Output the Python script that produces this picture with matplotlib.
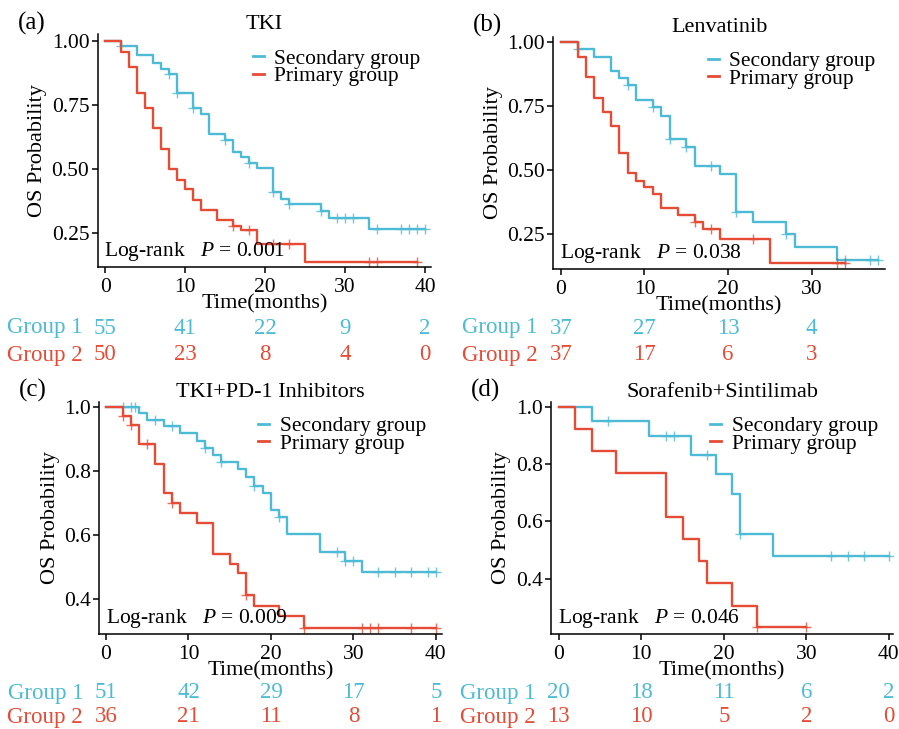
import numpy as np
import matplotlib
matplotlib.use("Agg")
import matplotlib.pyplot as plt
from matplotlib import transforms

plt.rcParams["font.family"] = ["Liberation Serif", "DejaVu Serif"]
plt.rcParams["mathtext.fontset"] = "custom"
plt.rcParams["mathtext.rm"] = "Liberation Serif"
plt.rcParams["mathtext.it"] = "Liberation Serif:italic"

BLUE = "#4DBBD5"
RED = "#E64B35"

# (a) TKI
a_sec_t = [0, 2, 4, 6, 7, 8, 9, 11, 12, 13, 15, 16, 17, 18, 19, 21, 22, 23, 27, 28, 33]
a_sec_s = [1, 0.982, 0.945, 0.913, 0.889, 0.871, 0.796, 0.737, 0.715, 0.635, 0.613,
           0.568, 0.548, 0.525, 0.503, 0.409, 0.383, 0.363, 0.337, 0.307, 0.264]
a_sec_end = 40
a_sec_cens = [2, 8, 9, 11, 15, 18, 21, 23, 27, 29, 30, 31, 34, 37, 38, 39, 40]
a_pri_t = [0, 2, 3, 4, 5, 6, 7, 8, 9, 10, 11, 12, 14, 16, 17, 19, 25]
a_pri_s = [1, 0.958, 0.90, 0.798, 0.74, 0.659, 0.578, 0.499, 0.457, 0.42, 0.379,
           0.34, 0.30, 0.279, 0.262, 0.206, 0.137]
a_pri_end = 39
a_pri_cens = [16, 18, 21, 23, 33, 34, 39]
a_risk_t = [0, 10, 20, 30, 40]
a_risk_g1 = [55, 41, 22, 9, 2]
a_risk_g2 = [50, 23, 8, 4, 0]

# (b) Lenvatinib
b_sec_t = [0, 2, 4, 6, 7, 8, 9, 11, 12, 13, 15, 16, 19, 21, 23, 27, 28, 33]
b_sec_s = [1, 0.973, 0.944, 0.889, 0.859, 0.833, 0.775, 0.746, 0.712, 0.622, 0.592,
           0.518, 0.484, 0.336, 0.296, 0.25, 0.199, 0.15]
b_sec_end = 38
b_sec_cens = [2, 8, 11, 13, 15, 18, 21, 27, 34, 37, 38]
b_pri_t = [0, 2, 3, 4, 5, 6, 7, 8, 9, 10, 11, 12, 14, 16, 17, 19, 25]
b_pri_s = [1, 0.944, 0.863, 0.784, 0.729, 0.674, 0.566, 0.488, 0.46, 0.434, 0.406,
           0.352, 0.326, 0.297, 0.27, 0.23, 0.137]
b_pri_end = 34
b_pri_cens = [16, 18, 23, 33, 34]
b_risk_t = [0, 10, 20, 30]
b_risk_g1 = [37, 27, 13, 4]
b_risk_g2 = [37, 17, 6, 3]

# (c) TKI+PD-1 Inhibitors
c_sec_t = [0, 4, 5, 7, 9, 11, 12, 13, 14, 16, 17, 18, 19, 20, 21, 22, 26, 29, 31]
c_sec_s = [1, 0.981, 0.958, 0.94, 0.919, 0.894, 0.873, 0.849, 0.828, 0.805, 0.78,
           0.754, 0.73, 0.678, 0.655, 0.603, 0.548, 0.519, 0.484]
c_sec_end = 40
c_sec_cens = [2, 3, 3.5, 6, 8, 12, 14, 18, 21, 28, 29, 30, 33, 35, 37, 39, 40]
c_pri_t = [0, 2, 3, 4, 6, 7, 8, 9, 11, 13, 15, 16, 17, 18, 21, 24]
c_pri_s = [1, 0.971, 0.943, 0.884, 0.821, 0.732, 0.70, 0.669, 0.638, 0.542, 0.511,
           0.48, 0.412, 0.378, 0.347, 0.311]
c_pri_end = 40
c_pri_cens = [2, 3, 5, 8, 17, 24, 31, 32, 33, 37, 40]
c_risk_t = [0, 10, 20, 30, 40]
c_risk_g1 = [51, 42, 29, 17, 5]
c_risk_g2 = [36, 21, 11, 8, 1]

# (d) Sorafenib+Sintilimab
d_sec_t = [0, 4, 11, 16, 19, 21, 22, 26]
d_sec_s = [1, 0.95, 0.896, 0.832, 0.764, 0.695, 0.557, 0.478]
d_sec_end = 40
d_sec_cens = [6, 13, 14, 18, 22, 33, 35, 37, 40]
d_pri_t = [0, 2, 4, 7, 13, 15, 17, 18, 21, 24]
d_pri_s = [1, 0.922, 0.847, 0.768, 0.617, 0.538, 0.463, 0.385, 0.307, 0.232]
d_pri_end = 30
d_pri_cens = [24, 30]
d_risk_t = [0, 10, 20, 30, 40]
d_risk_g1 = [20, 18, 11, 6, 2]
d_risk_g2 = [13, 10, 5, 2, 0]

W, H = 899, 729


def px_axes(fig, left, top, right, bottom):
    return fig.add_axes([left / W, 1 - bottom / H, (right - left) / W, (bottom - top) / H])


def km_curve(ax, t, s, end, cens, color, label):
    tt = list(t) + [end]
    ss = list(s) + [s[-1]]
    ax.step(tt, ss, where="post", color=color, lw=1.7, label=label)
    idx = np.searchsorted(t, cens, side="right") - 1
    ax.plot(cens, np.array(s)[idx], ls="none", marker="+", ms=7, mew=1.0,
            color=color, alpha=0.8)


def panel(fig, box, letter, title, sec, pri, xlim, ylim, yticks, yfmt,
          pval, risk_t, g1, g2, row_y, xticks):
    ax = px_axes(fig, *box)
    km_curve(ax, *sec, BLUE, "Secondary group")
    km_curve(ax, *pri, RED, "Primary group")
    ax.set_xlim(*xlim)
    ax.set_ylim(*ylim)
    ax.set_xticks(xticks)
    ax.set_yticks(yticks)
    ax.set_yticklabels([yfmt.format(v) for v in yticks])
    for sp in ["top", "right"]:
        ax.spines[sp].set_visible(False)
    for sp in ["left", "bottom"]:
        ax.spines[sp].set_linewidth(1.1)
    ax.tick_params(labelsize=15.5, length=4, width=1.1, colors="black")
    ax.tick_params(axis="x", pad=4)
    ax.tick_params(axis="y", pad=2)
    ax.set_ylabel("OS Probability", fontsize=16, labelpad=3)
    ax.set_xlabel("Time(months)", fontsize=16, labelpad=-2)
    ax.set_title(title, fontsize=16, pad=1)
    leg = ax.legend(loc="upper left", bbox_to_anchor=(0.44, 0.975), frameon=False,
                    fontsize=15.5, handlelength=0.5, handletextpad=0.5,
                    labelspacing=-0.12, borderaxespad=0.0)
    for h in leg.legend_handles:
        h.set_linewidth(2.0)
    ax.text(0.02, 0.068, "Log-rank   $P$ = " + pval, transform=ax.transAxes,
            fontsize=15.5, va="center", ha="left")
    fig.text((box[0] - 80) / W, 1 - (box[1] - 11) / H, letter, fontsize=18,
             va="center", ha="left")

    trans = transforms.blended_transform_factory(ax.transData, fig.transFigure)
    lab_trans = transforms.offset_copy(trans, fig=fig, x=-23, units="dots")
    for vals, color, name, ypx in [(g1, BLUE, "Group 1", row_y[0]),
                                   (g2, RED, "Group 2", row_y[1])]:
        yf = 1 - ypx / H
        ax.text(0, yf, name, transform=lab_trans, color=color, fontsize=16.5,
                ha="right", va="center")
        for x, v in zip(risk_t, vals):
            ax.text(x, yf, str(v), transform=trans, color=color, fontsize=16.5,
                    ha="center", va="center")
    return ax


def main():
    fig = plt.figure(figsize=(W / 100, H / 100), dpi=100)

    panel(fig, (97.7, 34.3, 431, 267), "(a)", "TKI",
          (a_sec_t, a_sec_s, a_sec_end, a_sec_cens),
          (a_pri_t, a_pri_s, a_pri_end, a_pri_cens),
          (-0.96, 40.75), (0.117, 1.026), [0.25, 0.5, 0.75, 1.0], "{:.2f}",
          "0.001", a_risk_t, a_risk_g1, a_risk_g2, (328, 355), [0, 10, 20, 30, 40])

    panel(fig, (553.3, 36.7, 885, 269.3), "(b)", "Lenvatinib",
          (b_sec_t, b_sec_s, b_sec_end, b_sec_cens),
          (b_pri_t, b_pri_s, b_pri_end, b_pri_cens),
          (-0.92, 38.8), (0.113, 1.022), [0.25, 0.5, 0.75, 1.0], "{:.2f}",
          "0.038", b_risk_t, b_risk_g1, b_risk_g2, (328, 355), [0, 10, 20, 30])

    panel(fig, (99, 401.7, 441.7, 634), "(c)", "TKI+PD-1 Inhibitors",
          (c_sec_t, c_sec_s, c_sec_end, c_sec_cens),
          (c_pri_t, c_pri_s, c_pri_end, c_pri_cens),
          (-0.85, 40.7), (0.291, 1.016), [0.4, 0.6, 0.8, 1.0], "{:.1f}",
          "0.009", c_risk_t, c_risk_g1, c_risk_g2, (693, 717), [0, 10, 20, 30, 40])

    panel(fig, (551, 401.7, 893, 634), "(d)", "Sorafenib+Sintilimab",
          (d_sec_t, d_sec_s, d_sec_end, d_sec_cens),
          (d_pri_t, d_pri_s, d_pri_end, d_pri_cens),
          (-0.93, 40.5), (0.208, 1.017), [0.4, 0.6, 0.8, 1.0], "{:.1f}",
          "0.046", d_risk_t, d_risk_g1, d_risk_g2, (693, 717), [0, 10, 20, 30, 40])

    fig.savefig("out.png", dpi=100)
    plt.close(fig)


if __name__ == "__main__":
    main()
